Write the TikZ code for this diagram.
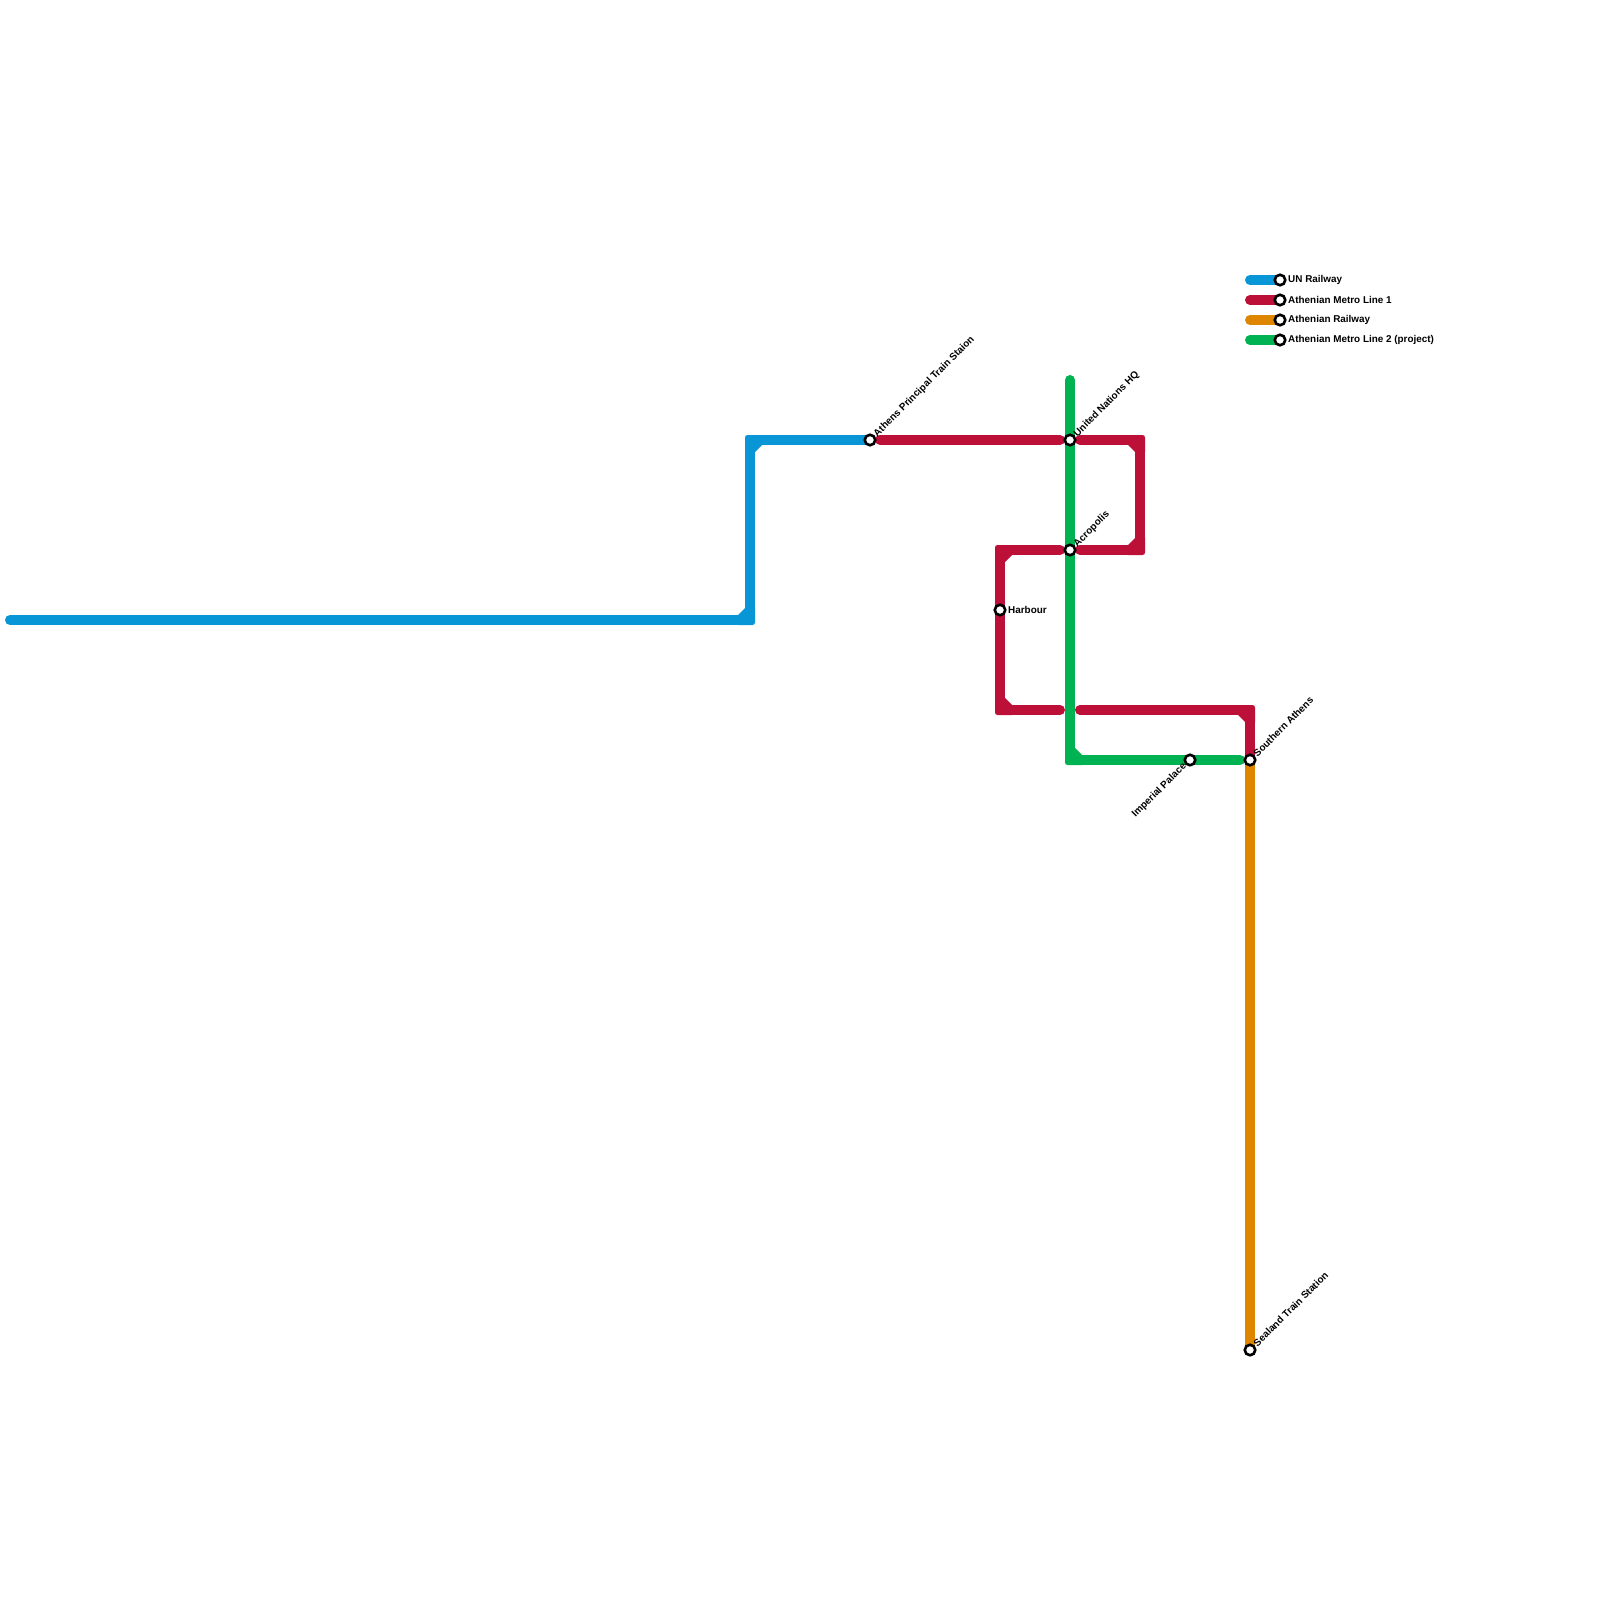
\documentclass[tikz,border=0pt]{standalone}
\usepackage{fontspec}
\setmainfont{Liberation Sans}
\usetikzlibrary{calc,backgrounds}
\definecolor{unblue}{HTML}{0896D7}
\definecolor{metrored}{HTML}{BD1038}
\definecolor{railorange}{HTML}{DF8600}
\definecolor{metrogreen}{HTML}{00B251}
\tikzset{
  trackline/.style={line width=10pt, line cap=round, line join=round},
  station/.style={circle, draw=black, line width=2.6pt, fill=white, minimum size=10.5pt, inner sep=0pt},
  tag/.style={font=\fontsize{9.9}{10}\selectfont\bfseries, text=black, inner sep=0pt, anchor=west},
  slanttag/.style={tag, rotate=45},
  backtag/.style={tag, anchor=east, rotate=45}
}
% corner patch: tight outer bend and chamfered inner bend
\newcommand{\trackbend}[4]{%
  \fill[#4] ($(#1)+(12*#2,-5*#3)$) -- ($(#1)+(12*#2,5*#3)$)
    -- ($(#1)+(5*#2,12*#3)$) -- ($(#1)+(-5*#2,12*#3)$) [rounded corners=2.5pt] -- ($(#1)+(-5*#2,-5*#3)$)
    [sharp corners] -- cycle;%
}
\begin{document}
\begin{tikzpicture}[x=1pt, y=-1pt]
  \useasboundingbox (0,0) rectangle (1600,1600);

  % track ends and bends
  \coordinate (westend) at (10,620);
  \coordinate (bluelow) at (750,620);
  \coordinate (bluehigh) at (750,440);
  \coordinate (redstart) at (880,440);
  \coordinate (unwest) at (1060,440);
  \coordinate (uneast) at (1080,440);
  \coordinate (redne) at (1140,440);
  \coordinate (redse) at (1140,550);
  \coordinate (acroeast) at (1080,550);
  \coordinate (acrowest) at (1060,550);
  \coordinate (rednw) at (1000,550);
  \coordinate (redsw) at (1000,710);
  \coordinate (gapwest) at (1060,710);
  \coordinate (gapeast) at (1080,710);
  \coordinate (redturn) at (1250,710);
  \coordinate (greentop) at (1070,380);
  \coordinate (greenbend) at (1070,760);
  \coordinate (greenend) at (1240,760);
  \coordinate (keyblue) at (1250,280);
  \coordinate (keyred) at (1250,300);
  \coordinate (keyorange) at (1250,320);
  \coordinate (keygreen) at (1250,340);

  % stations
  \node[station] (athens) at (870,440) {};
  \node[station] (unhq) at (1070,440) {};
  \node[station] (acropolis) at (1070,550) {};
  \node[station] (harbour) at (1000,610) {};
  \node[station] (palace) at (1190,760) {};
  \node[station] (southern) at (1250,760) {};
  \node[station] (sealand) at (1250,1350) {};
  \node[station] (stopblue) at (1280,280) {};
  \node[station] (stopred) at (1280,300) {};
  \node[station] (stoporange) at (1280,320) {};
  \node[station] (stopgreen) at (1280,340) {};

  % lines
  \begin{scope}[on background layer]
    \draw[trackline, railorange] (southern.center) -- (sealand.center);
    \draw[trackline, unblue] (westend) -- (bluelow) -- (bluehigh) -- (athens.center);
    \draw[trackline, metrored] (redstart) -- (unwest);
    \draw[trackline, metrored] (uneast) -- (redne) -- (redse) -- (acroeast);
    \draw[trackline, metrored] (acrowest) -- (rednw) -- (redsw) -- (gapwest);
    \draw[trackline, metrored] (gapeast) -- (redturn) -- (southern.center);
    \draw[trackline, metrogreen] (greentop) -- (greenbend) -- (greenend);
    \draw[trackline, unblue] (keyblue) -- (stopblue.center);
    \draw[trackline, metrored] (keyred) -- (stopred.center);
    \draw[trackline, railorange] (keyorange) -- (stoporange.center);
    \draw[trackline, metrogreen] (keygreen) -- (stopgreen.center);
    \trackbend{bluelow}{-1}{-1}{unblue}
    \trackbend{bluehigh}{1}{1}{unblue}
    \trackbend{redne}{-1}{1}{metrored}
    \trackbend{redse}{-1}{-1}{metrored}
    \trackbend{rednw}{1}{1}{metrored}
    \trackbend{redsw}{1}{-1}{metrored}
    \trackbend{redturn}{-1}{1}{metrored}
    \trackbend{greenbend}{1}{-1}{metrogreen}
  \end{scope}

  % labels
  \node[slanttag] (athenstag) at (875.5,435.5) {Athens Principal Train Staion};
  \node[slanttag] (unhqtag) at (1075.5,435.5) {United Nations HQ};
  \node[slanttag] (acropolistag) at (1075.5,545.5) {Acropolis};
  \node[tag] (harbourtag) at (1008,609.5) {Harbour};
  \node[backtag] (palacetag) at (1185,765) {Imperial Palace};
  \node[slanttag] (southerntag) at (1255,755) {Southern Athens};
  \node[slanttag] (sealandtag) at (1255,1345) {Sealand Train Station};
  \node[tag] (tagblue) at (1288,279.7) {UN Railway};
  \node[tag] (tagred) at (1288,299.7) {Athenian Metro Line 1};
  \node[tag] (tagorange) at (1288,319.7) {Athenian Railway};
  \node[tag] (taggreen) at (1288,339.7) {Athenian Metro Line 2 (project)};
\end{tikzpicture}
\end{document}
